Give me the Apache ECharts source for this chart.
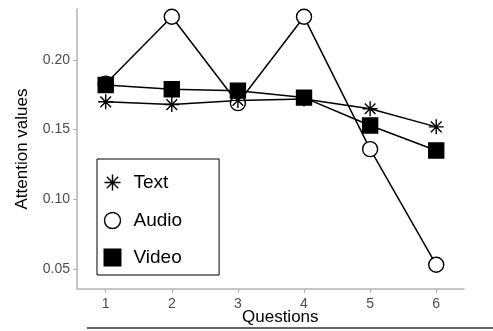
<!DOCTYPE html>
<html>
<head>
<meta charset="utf-8">
<script src="https://cdn.jsdelivr.net/npm/echarts@6/dist/echarts.min.js"></script>
<style>
  html, body { margin: 0; padding: 0; background: #fff; }
  #chart { width: 493px; height: 331px; }
</style>
</head>
<body>
<div id="chart"></div>
<script>
// 数据
const questions = [1, 2, 3, 4, 5, 6];
const textValues = [0.170, 0.168, 0.171, 0.172, 0.165, 0.152];
const audioValues = [0.183, 0.231, 0.169, 0.231, 0.136, 0.053];
const videoValues = [0.182, 0.179, 0.178, 0.173, 0.153, 0.135];
const yTicks = [0.05, 0.10, 0.15, 0.20];

const starPath = 'path://M0,-7L0,7M-7,0L7,0M-5,-5L5,5M-5,5L5,-5';
const font = 'Liberation Sans, Arial, sans-serif';

function pairs(vals) {
  return questions.map((q, i) => [q, vals[i]]);
}

function makeSeries(name, vals, symbol, size, fill) {
  return {
    name: name,
    type: 'line',
    data: pairs(vals),
    symbol: symbol,
    symbolSize: size,
    showAllSymbol: true,
    lineStyle: { color: '#000', width: 1.5 },
    itemStyle: { color: fill, borderColor: '#000', borderWidth: 1.4 },
    emphasis: { disabled: true },
    animation: false
  };
}

const chart = echarts.init(document.getElementById('chart'));
chart.setOption({
  backgroundColor: '#fff',
  textStyle: { fontFamily: font },
  grid: { left: 77, right: 29, top: 9, bottom: 42 },
  xAxis: {
    type: 'value',
    min: 0.566,
    max: 6.42,
    axisLine: { lineStyle: { color: '#b3b3b3', width: 1.5 } },
    axisTick: { show: true, length: 4, customValues: questions, lineStyle: { color: '#b3b3b3' } },
    axisLabel: { customValues: questions, color: '#4d4d4d', fontSize: 14, margin: 8, fontFamily: font },
    splitLine: { show: false }
  },
  yAxis: {
    type: 'value',
    min: 0.0356,
    max: 0.2366,
    axisLine: { show: true, lineStyle: { color: '#b3b3b3', width: 1.5 } },
    axisTick: { show: true, length: 4, customValues: yTicks, lineStyle: { color: '#b3b3b3' } },
    axisLabel: {
      customValues: yTicks, color: '#4d4d4d', fontSize: 14, margin: 7, fontFamily: font,
      formatter: v => v.toFixed(2)
    },
    splitLine: { show: false },
    name: 'Attention values',
    nameLocation: 'middle',
    nameGap: 46,
    nameTextStyle: { color: '#000', fontSize: 17, fontFamily: font }
  },
  legend: {
    orient: 'vertical',
    left: 97,
    top: 159,
    padding: [13, 37, 8, 5],
    itemGap: 18,
    itemWidth: 16,
    itemHeight: 16,
    borderColor: '#000',
    borderWidth: 1,
    selectedMode: false,
    textStyle: { fontSize: 19, color: '#000', fontFamily: font, padding: [0, 0, 0, 8] },
    data: [
      { name: 'Text', icon: starPath, itemStyle: { color: 'none', borderColor: '#000', borderWidth: 1.4 } },
      { name: 'Audio', icon: 'circle', itemStyle: { color: '#fff', borderColor: '#000', borderWidth: 1.4 } },
      { name: 'Video', icon: 'rect', itemStyle: { color: '#000', borderColor: '#000' } }
    ]
  },
  graphic: [
    {
      type: 'text',
      left: 280 - 38,
      top: 309,
      style: { text: 'Questions', fontSize: 17, fill: '#000', fontFamily: font }
    },
    {
      type: 'line',
      shape: { x1: 87, y1: 328, x2: 493, y2: 328 },
      style: { stroke: '#333', lineWidth: 1.5 }
    }
  ],
  series: [
    makeSeries('Audio', audioValues, 'circle', 15, '#fff'),
    makeSeries('Text', textValues, starPath, 15, 'none'),
    makeSeries('Video', videoValues, 'rect', 15, '#000')
  ]
});
</script>
</body>
</html>
